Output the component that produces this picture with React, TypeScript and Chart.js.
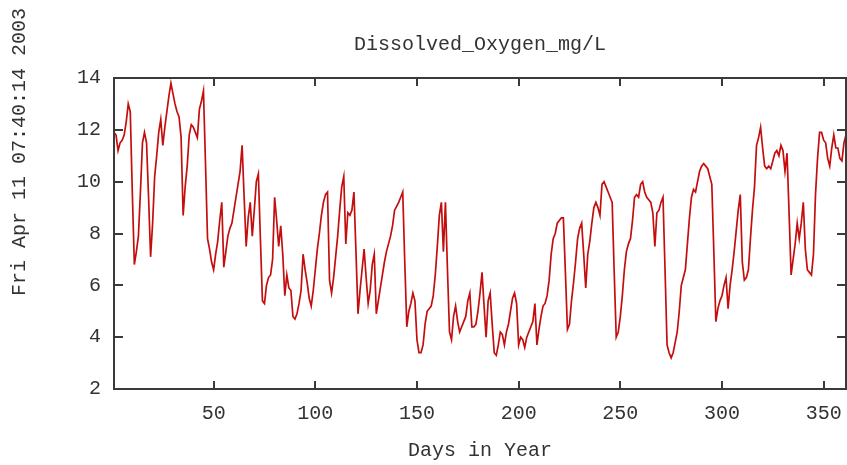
import React, { useEffect, useRef } from 'react';
import { Chart, registerables } from 'chart.js';

Chart.register(...registerables);

const startDay = 1;

const dissolvedOxygen = [
  11.9, 11.8, 11.2, 11.5, 11.6, 11.8, 12.3, 13.0, 12.7, 9.6,
  6.8, 7.3, 7.9, 9.6, 11.5, 11.9, 11.5, 9.4, 7.1, 8.4,
  10.2, 11.0, 11.9, 12.4, 11.4, 12.1, 12.7, 13.3, 13.8, 13.4,
  13.0, 12.7, 12.5, 11.7, 8.7, 9.8, 10.6, 11.8, 12.2, 12.1,
  11.9, 11.7, 12.8, 13.1, 13.5, 10.7, 7.8, 7.4, 6.9, 6.6,
  7.2, 7.7, 8.5, 9.2, 6.7, 7.3, 7.9, 8.2, 8.4, 8.9,
  9.4, 9.9, 10.4, 11.4, 9.4, 7.5, 8.6, 9.2, 7.9, 8.9,
  10.0, 10.3, 7.8, 5.4, 5.3, 6.0, 6.3, 6.4, 7.0, 9.4,
  8.5, 7.5, 8.3, 7.2, 5.6, 6.4, 5.9, 5.8, 4.8, 4.7,
  4.9, 5.3, 5.8, 7.2, 6.6, 6.1, 5.5, 5.2, 5.8, 6.6,
  7.4, 8.0, 8.7, 9.2, 9.5, 9.6, 6.2, 5.7, 6.3, 7.1,
  7.9, 8.9, 9.8, 10.2, 7.6, 8.8, 8.7, 8.9, 9.6, 7.3,
  4.9, 5.8, 6.6, 7.4, 6.3, 5.3, 5.8, 6.8, 7.2, 4.9,
  5.4, 5.9, 6.4, 6.9, 7.3, 7.6, 7.9, 8.3, 8.9, 9.05,
  9.2, 9.4, 9.6, 6.9, 4.4, 5.0, 5.3, 5.7, 5.4, 3.9,
  3.4, 3.4, 3.7, 4.5, 5.0, 5.1, 5.2, 5.6, 6.4, 7.5,
  8.7, 9.2, 7.3, 9.2, 6.6, 4.2, 3.9, 4.8, 5.2, 4.6,
  4.2, 4.4, 4.6, 4.8, 5.4, 5.7, 4.4, 4.4, 4.5, 5.0,
  5.7, 6.5, 5.2, 4.0, 5.4, 5.7, 4.5, 3.4, 3.3, 3.7,
  4.2, 4.1, 3.7, 4.2, 4.5, 5.0, 5.5, 5.7, 5.3, 3.7,
  4.0, 3.9, 3.6, 4.0, 4.2, 4.4, 4.6, 5.3, 3.7, 4.3,
  4.8, 5.2, 5.3, 5.6, 6.2, 7.2, 7.8, 8.0, 8.4, 8.5,
  8.6, 8.6, 6.5, 4.3, 4.5, 5.4, 6.1, 6.9, 7.8, 8.2,
  8.4, 7.2, 5.9, 7.2, 7.7, 8.4, 9.0, 9.2, 9.0, 8.7,
  9.9, 10.0, 9.8, 9.6, 9.4, 9.2, 6.5, 4.0, 4.2, 4.8,
  5.6, 6.6, 7.3, 7.6, 7.8, 8.5, 9.4, 9.5, 9.4, 9.9,
  10.0, 9.6, 9.4, 9.3, 9.2, 8.8, 7.5, 8.8, 8.9, 9.2,
  9.4, 6.6, 3.7, 3.4, 3.2, 3.4, 3.8, 4.2, 5.0, 6.0,
  6.3, 6.6, 7.6, 8.6, 9.4, 9.7, 9.6, 10.0, 10.4, 10.6,
  10.7, 10.6, 10.5, 10.2, 9.9, 7.3, 4.6, 5.1, 5.4, 5.6,
  6.0, 6.3, 5.1, 6.0, 6.6, 7.3, 8.1, 8.9, 9.5, 6.9,
  6.2, 6.3, 6.6, 7.8, 8.9, 9.8, 11.4, 11.7, 12.1, 11.3,
  10.6, 10.5, 10.6, 10.5, 10.8, 11.1, 11.2, 11.0, 11.4, 11.2,
  10.4, 11.1, 8.8, 6.4, 7.0, 7.6, 8.4, 7.8, 8.4, 9.2,
  7.4, 6.6, 6.5, 6.4, 7.2, 9.5, 10.9, 11.9, 11.9, 11.6,
  11.5, 10.9, 10.6, 11.3, 11.8, 11.3, 11.3, 10.9, 10.8, 11.5,
  11.8,
];

const xTickValues = [50, 100, 150, 200, 250, 300, 350];
const yTickValues = [2, 4, 6, 8, 10, 12, 14];
const xRange = [1, 361];
const yRange = [2, 14];

const chartTitle = 'Dissolved_Oxygen_mg/L';
const xAxisTitle = 'Days in Year';
const timestamp = 'Fri Apr 11 07:40:14 2003';

const FONT_FAMILY = "'Liberation Mono', 'DejaVu Sans Mono', monospace";
const TEXT_COLOR = '#333333';
const FRAME_COLOR = '#3a3a3a';
const LINE_COLOR = 'rgb(196, 14, 14)';

const framePlugin = {
  id: 'gnuFrame',
  afterDatasetsDraw(chart: any) {
    const { ctx, chartArea, scales } = chart;
    const { left, right, top, bottom } = chartArea;
    const x = scales.x;
    const y = scales.y;
    ctx.save();
    ctx.strokeStyle = FRAME_COLOR;
    ctx.lineWidth = 2;
    ctx.strokeRect(left, top, right - left, bottom - top);
    ctx.beginPath();
    for (const v of xTickValues) {
      const px = Math.round(x.getPixelForValue(v));
      ctx.moveTo(px, bottom);
      ctx.lineTo(px, bottom - 8);
      ctx.moveTo(px, top);
      ctx.lineTo(px, top + 8);
    }
    for (const v of yTickValues) {
      const py = Math.round(y.getPixelForValue(v));
      ctx.moveTo(left, py);
      ctx.lineTo(left + 9, py);
      ctx.moveTo(right, py);
      ctx.lineTo(right - 9, py);
    }
    ctx.stroke();

    ctx.fillStyle = TEXT_COLOR;
    ctx.font = `20px ${FONT_FAMILY}`;
    ctx.textAlign = 'center';
    ctx.textBaseline = 'middle';
    ctx.fillText(chartTitle, (left + right) / 2, 45);

    ctx.translate(20, 296);
    ctx.rotate(-Math.PI / 2);
    ctx.textAlign = 'left';
    ctx.fillText(timestamp, 0, 0);
    ctx.restore();
  },
};

export default function App() {
  const canvasRef = useRef<HTMLCanvasElement | null>(null);

  useEffect(() => {
    const canvas = canvasRef.current;
    if (!canvas) return;
    const chart = new Chart(canvas, {
      type: 'line',
      data: {
        datasets: [
          {
            label: chartTitle,
            data: dissolvedOxygen.map((v, i) => ({ x: startDay + i, y: v })),
            borderColor: LINE_COLOR,
            borderWidth: 1.7,
            pointRadius: 0,
            tension: 0,
            fill: false,
          },
        ],
      },
      options: {
        responsive: false,
        animation: false,
        devicePixelRatio: 1,
        layout: { padding: { top: 78, right: 1, left: 0, bottom: 0 } },
        plugins: {
          legend: { display: false },
          title: { display: false },
          tooltip: { enabled: false },
        },
        scales: {
          x: {
            type: 'linear',
            min: xRange[0],
            max: xRange[1],
            afterBuildTicks: (scale: any) => {
              scale.ticks = xTickValues.map((v) => ({ value: v }));
            },
            afterFit: (scale: any) => {
              scale.height = 76;
              scale.paddingLeft = 0;
              scale.paddingRight = 0;
            },
            grid: { display: false, drawTicks: false },
            border: { display: false },
            ticks: {
              padding: 13,
              maxRotation: 0,
              autoSkip: false,
              color: TEXT_COLOR,
              font: { family: FONT_FAMILY, size: 20 },
            },
            title: {
              display: true,
              text: xAxisTitle,
              color: TEXT_COLOR,
              font: { family: FONT_FAMILY, size: 20 },
              padding: { top: 0, bottom: 2 },
            },
          },
          y: {
            type: 'linear',
            min: yRange[0],
            max: yRange[1],
            afterBuildTicks: (scale: any) => {
              scale.ticks = yTickValues.map((v) => ({ value: v }));
            },
            afterFit: (scale: any) => {
              scale.width = 114;
              scale.paddingTop = 0;
              scale.paddingBottom = 0;
            },
            grid: { display: false, drawTicks: false },
            border: { display: false },
            ticks: {
              padding: 13,
              autoSkip: false,
              color: TEXT_COLOR,
              font: { family: FONT_FAMILY, size: 20 },
            },
          },
        },
      },
      plugins: [framePlugin],
    });
    return () => chart.destroy();
  }, []);

  return (
    <div style={{ position: 'fixed', left: 0, top: 0, width: 847, height: 465, background: '#ffffff' }}>
      <canvas ref={canvasRef} width={847} height={465} style={{ display: 'block' }} />
    </div>
  );
}
